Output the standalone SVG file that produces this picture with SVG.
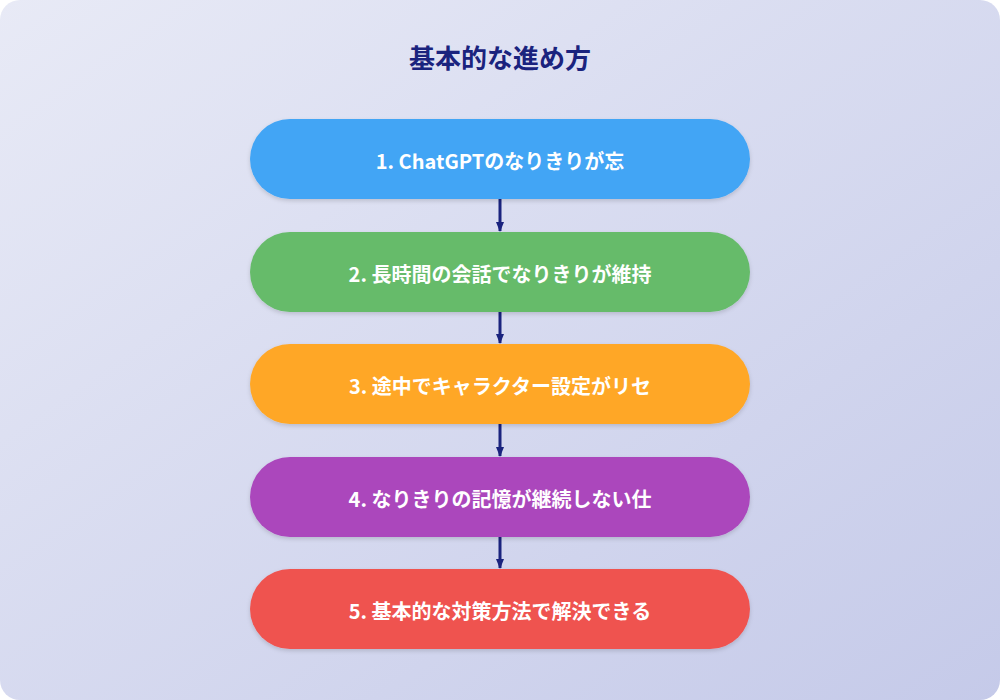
<svg xmlns="http://www.w3.org/2000/svg" width="1000" height="700" viewBox="0 0 1000 700">
<defs>
<linearGradient id="bg" x1="0" y1="0" x2="1" y2="1"><stop offset="0" stop-color="#e8eaf6"/><stop offset="1" stop-color="#c5cae9"/></linearGradient>
<marker id="ah" markerWidth="10" markerHeight="8" refX="9" refY="4" orient="auto" markerUnits="userSpaceOnUse"><path d="M0,0 L10,4 L0,8 Z" fill="#1a237e"/></marker>
<filter id="sh" x="-10%" y="-20%" width="120%" height="150%"><feDropShadow dx="0" dy="2" stdDeviation="2" flood-opacity="0.15"/></filter>
</defs>
<style>
.n text{font-family:"Noto Sans CJK JP","Noto Sans",sans-serif;font-weight:bold;font-size:20px;fill:#fff;text-anchor:middle;dominant-baseline:central}
.n rect{filter:url(#sh)}
.c line{stroke:#1a237e;stroke-width:3;marker-end:url(#ah)}
</style>
<rect x="0" y="0" width="1000" height="700" rx="20" fill="url(#bg)"/>
<text x="500" y="56" font-family="Noto Sans CJK JP,sans-serif" font-weight="bold" font-size="26" fill="#1a237e" text-anchor="middle" dominant-baseline="central">基本的な進め方</text>
<g class="c">
<line x1="500" y1="199" x2="500" y2="231"/>
<line x1="500" y1="312" x2="500" y2="343"/>
<line x1="500" y1="424" x2="500" y2="456"/>
<line x1="500" y1="537" x2="500" y2="568"/>
</g>
<g id="n1" class="n"><rect x="250" y="119" width="500" height="80" rx="40" fill="#42a5f5"/><text x="500" y="160">1. ChatGPTのなりきりが忘</text></g>
<g id="n2" class="n"><rect x="250" y="232" width="500" height="80" rx="40" fill="#66bb6a"/><text x="500" y="273">2. 長時間の会話でなりきりが維持</text></g>
<g id="n3" class="n"><rect x="250" y="344" width="500" height="80" rx="40" fill="#ffa726"/><text x="500" y="385">3. 途中でキャラクター設定がリセ</text></g>
<g id="n4" class="n"><rect x="250" y="457" width="500" height="80" rx="40" fill="#ab47bc"/><text x="500" y="498">4. なりきりの記憶が継続しない仕</text></g>
<g id="n5" class="n"><rect x="250" y="569" width="500" height="80" rx="40" fill="#ef5350"/><text x="500" y="610">5. 基本的な対策方法で解決できる</text></g>
</svg>
